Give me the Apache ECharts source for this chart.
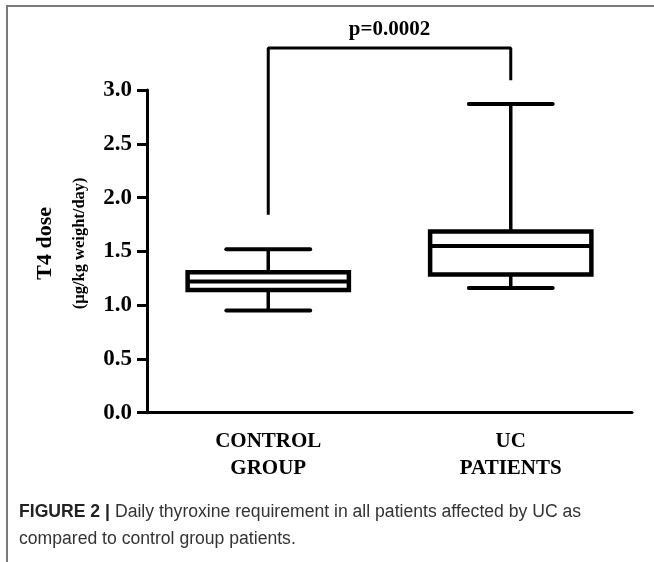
<!DOCTYPE html>
<html>
<head>
<meta charset="utf-8">
<script src="https://cdn.jsdelivr.net/npm/echarts@6/dist/echarts.min.js"></script>
<style>html,body{margin:0;padding:0;background:#fff;}#c{width:654px;height:562px;}</style>
</head>
<body>
<div id="c"></div>
<script>
// ---- data ----
const categories = ['CONTROL\nGROUP', 'UC\nPATIENTS'];
// [min, Q1, median, Q3, max]
const controlBox = [0.95, 1.14, 1.22, 1.305, 1.52];
const ucBox = [1.16, 1.285, 1.55, 1.685, 2.87];
const yTickLabels = ['0.0', '0.5', '1.0', '1.5', '2.0', '2.5', '3.0'];
// significance bracket: [groupIndex, value]
const bracket = [[0, 1.84], [0, 3.39], [1, 3.39], [1, 3.09]];
const pLabelPoint = [[0.5, 3.39]];
const pText = 'p=0.0002';

const serif = '"Liberation Serif","Times New Roman",serif';
const sans = '"Liberation Sans Narrow","Liberation Sans",Arial,sans-serif';

const chart = echarts.init(document.getElementById('c'), null, {renderer: 'canvas'});

const boxData = [[0].concat(controlBox), [1].concat(ucBox)];

const option = {
  backgroundColor: '#fff',
  animation: false,
  title: {
    left: 19, top: 499, padding: 0,
    text: '{b|FIGURE 2 |} {r|Daily thyroxine requirement in all patients affected by UC as}\n{r|compared to control group patients.}',
    textStyle: {
      rich: {
        b: {fontFamily: sans, fontWeight: 'bold', fontSize: 17.6, color: '#222', lineHeight: 27},
        r: {fontFamily: sans, fontWeight: 'normal', fontSize: 17.6, color: '#333', lineHeight: 27}
      }
    }
  },
  graphic: [
    {type: 'line', shape: {x1: 6, y1: 6, x2: 654, y2: 6}, style: {stroke: '#7a7a7a', lineWidth: 2}},
    {type: 'line', shape: {x1: 7, y1: 6, x2: 7, y2: 562}, style: {stroke: '#7a7a7a', lineWidth: 2}}
  ],
  grid: {left: 147, right: 22, top: 90, bottom: 149.3, containLabel: false},
  xAxis: [
    {
      type: 'category', data: categories, boundaryGap: true,
      axisLine: {lineStyle: {color: '#000', width: 3}},
      axisTick: {alignWithLabel: true, length: 9, lineStyle: {color: '#000', width: 3}},
      axisLabel: {margin: 15, color: '#000', fontFamily: serif, fontWeight: 'bold', fontSize: 21, lineHeight: 27},
      splitLine: {show: false}
    },
    {type: 'value', min: -0.5, max: 1.5, show: false, splitLine: {show: false}}
  ],
  yAxis: {
    type: 'value', min: 0, max: 3, interval: 0.5,
    axisLine: {show: true, onZero: false, lineStyle: {color: '#000', width: 3}},
    axisTick: {show: true, length: 10, lineStyle: {color: '#000', width: 3}},
    axisLabel: {margin: 15, color: '#000', fontFamily: serif, fontWeight: 'bold', fontSize: 23,
      formatter: function (v) { return yTickLabels[Math.round(v / 0.5)]; }},
    splitLine: {show: false},
    name: '{a|T4 dose}\n{b|(µg/kg weight/day)}',
    nameLocation: 'middle', nameRotate: 90, nameGap: 54,
    nameTextStyle: {
      padding: [0, 0, 0, 16],
      rich: {
        a: {fontFamily: serif, fontWeight: 'bold', fontSize: 22, color: '#000', lineHeight: 44, align: 'center'},
        b: {fontFamily: serif, fontWeight: 'bold', fontSize: 16.5, color: '#000', lineHeight: 26, align: 'center'}
      }
    }
  },
  series: [
    {
      type: 'custom', xAxisIndex: 0, yAxisIndex: 0, clip: false,
      data: boxData,
      renderItem: function (params, api) {
        const x = api.value(0);
        const lo = api.coord([x, api.value(1)]);
        const q1 = api.coord([x, api.value(2)]);
        const md = api.coord([x, api.value(3)]);
        const q3 = api.coord([x, api.value(4)]);
        const hi = api.coord([x, api.value(5)]);
        const band = api.size([1, 0])[0];
        const bw = band * 0.665;
        const cw = bw * 0.52;
        const cx = q1[0];
        return {
          type: 'group',
          children: [
            {type: 'line', shape: {x1: cx, y1: q3[1], x2: cx, y2: hi[1]}, style: {stroke: '#000', lineWidth: 3.5}},
            {type: 'line', shape: {x1: cx, y1: q1[1], x2: cx, y2: lo[1]}, style: {stroke: '#000', lineWidth: 3.5}},
            {type: 'line', shape: {x1: cx - cw / 2, y1: hi[1], x2: cx + cw / 2, y2: hi[1]}, style: {stroke: '#000', lineWidth: 4, lineCap: 'round'}},
            {type: 'line', shape: {x1: cx - cw / 2, y1: lo[1], x2: cx + cw / 2, y2: lo[1]}, style: {stroke: '#000', lineWidth: 4, lineCap: 'round'}},
            {type: 'rect', shape: {x: cx - bw / 2, y: q3[1], width: bw, height: q1[1] - q3[1]}, style: {stroke: '#000', fill: '#fff', lineWidth: 4.5}},
            {type: 'line', shape: {x1: cx - bw / 2, y1: md[1], x2: cx + bw / 2, y2: md[1]}, style: {stroke: '#000', lineWidth: 4}}
          ]
        };
      }
    },
    {
      type: 'line', xAxisIndex: 1, yAxisIndex: 0, clip: false,
      data: bracket, symbol: 'none', lineStyle: {color: '#000', width: 3}, silent: true
    },
    {
      type: 'scatter', xAxisIndex: 1, yAxisIndex: 0, clip: false,
      data: pLabelPoint, symbolSize: 0, silent: true,
      itemStyle: {opacity: 1},
      label: {show: true, position: 'top', distance: 8, formatter: pText,
        fontFamily: serif, fontWeight: 'bold', fontSize: 21, color: '#000', textBorderWidth: 0}
    }
  ]
};
chart.setOption(option);
</script>
</body>
</html>
